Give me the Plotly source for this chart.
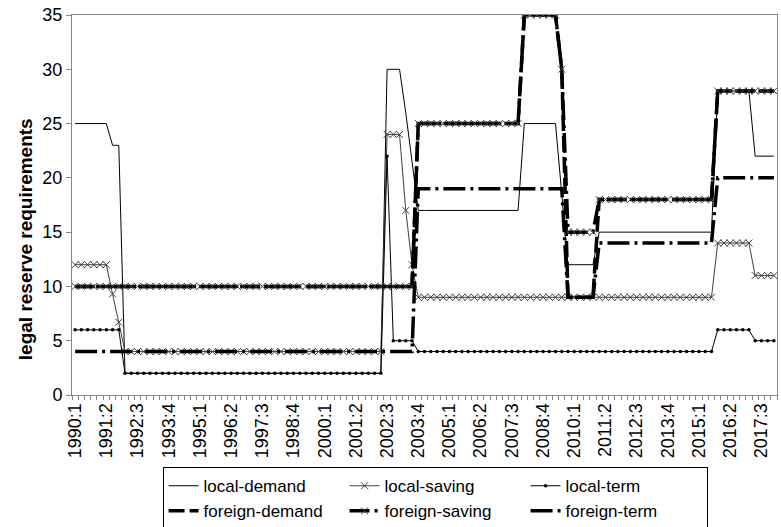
import plotly.graph_objects as go

# ---- categories (quarters 1990:1 .. 2018:1) ----
quarters = [f"{y}:{q}" for y in range(1990, 2018) for q in range(1, 5)] + ["2018:1"]
label_quarters = quarters[::5]

# ---- series values (one row per year, four quarters) ----
local_demand = [
    25, 25, 25, 25,      # 1990
    25, 25, 23, 23,      # 1991
    2, 2, 2, 2,          # 1992
    2, 2, 2, 2,          # 1993
    2, 2, 2, 2,          # 1994
    2, 2, 2, 2,          # 1995
    2, 2, 2, 2,          # 1996
    2, 2, 2, 2,          # 1997
    2, 2, 2, 2,          # 1998
    2, 2, 2, 2,          # 1999
    2, 2, 2, 2,          # 2000
    2, 2, 2, 2,          # 2001
    2, 2, 30, 30,        # 2002
    30, 26, 21.5, 17,    # 2003
    17, 17, 17, 17,      # 2004
    17, 17, 17, 17,      # 2005
    17, 17, 17, 17,      # 2006
    17, 17, 17, 17,      # 2007
    25, 25, 25, 25,      # 2008
    25, 25, 18.5, 12,    # 2009
    12, 12, 12, 12,      # 2010
    15, 15, 15, 15,      # 2011
    15, 15, 15, 15,      # 2012
    15, 15, 15, 15,      # 2013
    15, 15, 15, 15,      # 2014
    15, 15, 15, 28,      # 2015
    28, 28, 28, 28,      # 2016
    28, 22, 22, 22,      # 2017
    22,                  # 2018
]

local_saving = [
    12, 12, 12, 12,      # 1990
    12, 12, 9.3, 6.7,    # 1991
    4, 4, 4, 4,          # 1992
    4, 4, 4, 4,          # 1993
    4, 4, 4, 4,          # 1994
    4, 4, 4, 4,          # 1995
    4, 4, 4, 4,          # 1996
    4, 4, 4, 4,          # 1997
    4, 4, 4, 4,          # 1998
    4, 4, 4, 4,          # 1999
    4, 4, 4, 4,          # 2000
    4, 4, 4, 4,          # 2001
    4, 4, 24, 24,        # 2002
    24, 17, 12, 9,       # 2003
    9, 9, 9, 9,          # 2004
    9, 9, 9, 9,          # 2005
    9, 9, 9, 9,          # 2006
    9, 9, 9, 9,          # 2007
    9, 9, 9, 9,          # 2008
    9, 9, 9, 9,          # 2009
    9, 9, 9, 9,          # 2010
    9, 9, 9, 9,          # 2011
    9, 9, 9, 9,          # 2012
    9, 9, 9, 9,          # 2013
    9, 9, 9, 9,          # 2014
    9, 9, 9, 14,         # 2015
    14, 14, 14, 14,      # 2016
    14, 11, 11, 11,      # 2017
    11,                  # 2018
]

local_term = [
    6, 6, 6, 6,          # 1990
    6, 6, 6, 6,          # 1991
    2, 2, 2, 2,          # 1992
    2, 2, 2, 2,          # 1993
    2, 2, 2, 2,          # 1994
    2, 2, 2, 2,          # 1995
    2, 2, 2, 2,          # 1996
    2, 2, 2, 2,          # 1997
    2, 2, 2, 2,          # 1998
    2, 2, 2, 2,          # 1999
    2, 2, 2, 2,          # 2000
    2, 2, 2, 2,          # 2001
    2, 2, 22, 5,         # 2002
    5, 5, 5, 4,          # 2003
    4, 4, 4, 4,          # 2004
    4, 4, 4, 4,          # 2005
    4, 4, 4, 4,          # 2006
    4, 4, 4, 4,          # 2007
    4, 4, 4, 4,          # 2008
    4, 4, 4, 4,          # 2009
    4, 4, 4, 4,          # 2010
    4, 4, 4, 4,          # 2011
    4, 4, 4, 4,          # 2012
    4, 4, 4, 4,          # 2013
    4, 4, 4, 4,          # 2014
    4, 4, 4, 6,          # 2015
    6, 6, 6, 6,          # 2016
    6, 5, 5, 5,          # 2017
    5,                   # 2018
]

foreign_demand = [
    10, 10, 10, 10,      # 1990
    10, 10, 10, 10,      # 1991
    10, 10, 10, 10,      # 1992
    10, 10, 10, 10,      # 1993
    10, 10, 10, 10,      # 1994
    10, 10, 10, 10,      # 1995
    10, 10, 10, 10,      # 1996
    10, 10, 10, 10,      # 1997
    10, 10, 10, 10,      # 1998
    10, 10, 10, 10,      # 1999
    10, 10, 10, 10,      # 2000
    10, 10, 10, 10,      # 2001
    10, 10, 10, 10,      # 2002
    10, 10, 10, 25,      # 2003
    25, 25, 25, 25,      # 2004
    25, 25, 25, 25,      # 2005
    25, 25, 25, 25,      # 2006
    25, 25, 25, 25,      # 2007
    35, 35, 35, 35,      # 2008
    35, 35, 30, 9,       # 2009
    9, 9, 9, 9,          # 2010
    18, 18, 18, 18,      # 2011
    18, 18, 18, 18,      # 2012
    18, 18, 18, 18,      # 2013
    18, 18, 18, 18,      # 2014
    18, 18, 18, 28,      # 2015
    28, 28, 28, 28,      # 2016
    28, 28, 28, 28,      # 2017
    28,                  # 2018
]

foreign_saving = [
    10, 10, 10, 10,      # 1990
    10, 10, 10, 10,      # 1991
    10, 10, 10, 10,      # 1992
    10, 10, 10, 10,      # 1993
    10, 10, 10, 10,      # 1994
    10, 10, 10, 10,      # 1995
    10, 10, 10, 10,      # 1996
    10, 10, 10, 10,      # 1997
    10, 10, 10, 10,      # 1998
    10, 10, 10, 10,      # 1999
    10, 10, 10, 10,      # 2000
    10, 10, 10, 10,      # 2001
    10, 10, 10, 10,      # 2002
    10, 10, 10, 25,      # 2003
    25, 25, 25, 25,      # 2004
    25, 25, 25, 25,      # 2005
    25, 25, 25, 25,      # 2006
    25, 25, 25, 25,      # 2007
    35, 35, 35, 35,      # 2008
    35, 35, 30, 15,      # 2009
    15, 15, 15, 15,      # 2010
    18, 18, 18, 18,      # 2011
    18, 18, 18, 18,      # 2012
    18, 18, 18, 18,      # 2013
    18, 18, 18, 18,      # 2014
    18, 18, 18, 28,      # 2015
    28, 28, 28, 28,      # 2016
    28, 28, 28, 28,      # 2017
    28,                  # 2018
]

foreign_term = [
    4, 4, 4, 4,          # 1990
    4, 4, 4, 4,          # 1991
    4, 4, 4, 4,          # 1992
    4, 4, 4, 4,          # 1993
    4, 4, 4, 4,          # 1994
    4, 4, 4, 4,          # 1995
    4, 4, 4, 4,          # 1996
    4, 4, 4, 4,          # 1997
    4, 4, 4, 4,          # 1998
    4, 4, 4, 4,          # 1999
    4, 4, 4, 4,          # 2000
    4, 4, 4, 4,          # 2001
    4, 4, 4, 4,          # 2002
    4, 4, 4, 19,         # 2003
    19, 19, 19, 19,      # 2004
    19, 19, 19, 19,      # 2005
    19, 19, 19, 19,      # 2006
    19, 19, 19, 19,      # 2007
    19, 19, 19, 19,      # 2008
    19, 19, 19, 9,       # 2009
    9, 9, 9, 9,          # 2010
    14, 14, 14, 14,      # 2011
    14, 14, 14, 14,      # 2012
    14, 14, 14, 14,      # 2013
    14, 14, 14, 14,      # 2014
    14, 14, 14, 20,      # 2015
    20, 20, 20, 20,      # 2016
    20, 20, 20, 20,      # 2017
    20,                  # 2018
]

y_ticks = [0, 5, 10, 15, 20, 25, 30, 35]
y_title = "legal reserve requirements"

# ---- figure ----
GRAY = "#868686"
xmark = dict(symbol="x-thin", size=7, color="#404040", line=dict(width=1, color="#404040"))

traces = [
    ("local-demand", local_demand, dict(color="black", width=1), None),
    ("local-saving", local_saving, dict(color="#404040", width=1), xmark),
    ("local-term", local_term, dict(color="black", width=1), dict(symbol="circle", size=3.5, color="black")),
    ("foreign-demand", foreign_demand, dict(color="black", width=3.5, dash="16px,5px"), None),
    ("foreign-saving", foreign_saving, dict(color="black", width=3.5, dash="20px,5px,3px,5px"), xmark),
    ("foreign-term", foreign_term, dict(color="black", width=3.5, dash="22px,5px,3px,5px"), None),
]

fig = go.Figure()
for name, vals, line, marker in traces:
    kw = dict(x=quarters, y=vals, name=name, line=line)
    if marker is None:
        kw["mode"] = "lines"
    else:
        kw["mode"] = "lines+markers"
        kw["marker"] = marker
    fig.add_trace(go.Scatter(**kw))

ticktext = [q if q in label_quarters else "" for q in quarters]

fig.add_annotation(
    text=f"<b>{y_title}</b>",
    xref="paper", yref="paper",
    x=-0.0667, y=0.41,
    xanchor="center", yanchor="middle",
    textangle=-90,
    showarrow=False,
    font=dict(size=19, color="black"),
)

fig.update_layout(
    width=781,
    height=527,
    margin=dict(l=72, r=4, t=15, b=132, autoexpand=False),
    plot_bgcolor="white",
    paper_bgcolor="white",
    font=dict(family="Liberation Sans, Arial, sans-serif", color="black"),
    showlegend=True,
    xaxis=dict(
        type="category",
        tickmode="array",
        tickvals=quarters,
        ticktext=ticktext,
        tickangle=-90,
        tickson="boundaries",
        ticks="outside",
        ticklen=4,
        tickcolor=GRAY,
        showline=True,
        linecolor=GRAY,
        mirror=True,
        showgrid=False,
        zeroline=False,
        tickfont=dict(size=18, color="black"),
        range=[-0.5, len(quarters) - 0.5],
    ),
    yaxis=dict(
        range=[0, 35],
        tickmode="array",
        tickvals=y_ticks,
        ticks="outside",
        ticklen=5,
        tickcolor=GRAY,
        showline=True,
        linecolor=GRAY,
        mirror=True,
        showgrid=False,
        zeroline=False,
        tickfont=dict(size=18, color="black"),
    ),
    legend=dict(
        orientation="h",
        x=0.515,
        xanchor="center",
        y=-0.190,
        yanchor="top",
        bordercolor="black",
        borderwidth=1,
        font=dict(size=17, color="black"),
        entrywidth=136,
        entrywidthmode="pixels",
        traceorder="normal",
        itemwidth=30,
    ),
)

fig.write_html(
    "out.html",
    config={"displayModeBar": False},
    post_script="document.body.style.margin='0';document.body.style.padding='0';",
)
